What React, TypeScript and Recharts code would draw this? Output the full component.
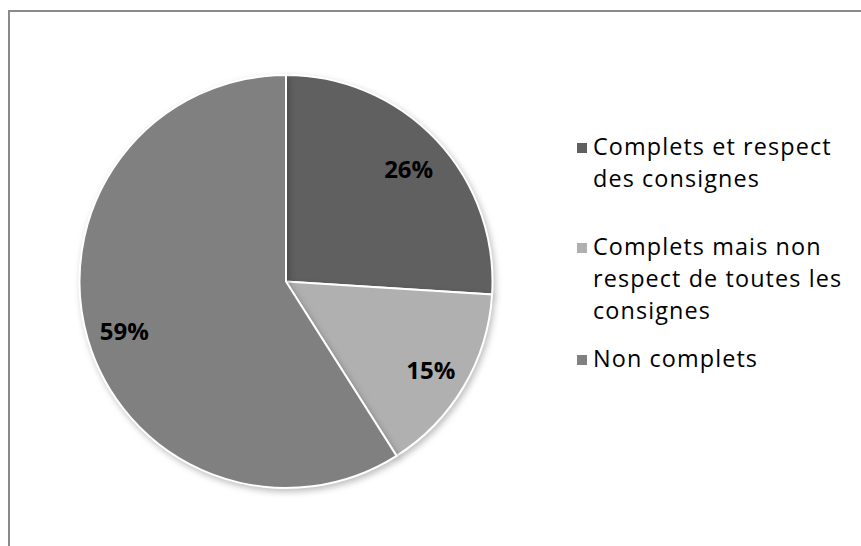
import React from "react";
import { PieChart, Pie, Cell, Legend } from "recharts";

const categories = [
  "Complets et respect des consignes",
  "Complets mais non respect de toutes les consignes",
  "Non complets",
];
const values = [26, 15, 59];
const legendLines = [
  ["Complets et respect", "des consignes"],
  ["Complets mais non", "respect de toutes les", "consignes"],
  ["Non complets"],
];
const colors = ["#606060", "#b0b0b0", "#808080"];

const data = categories.map((name, i) => ({ name, value: values[i] }));

const RAD = Math.PI / 180;
const FONT = "'Open Sans', 'DejaVu Sans', sans-serif";

const renderLabel = (props: any) => {
  const { cx, cy, midAngle, outerRadius, value } = props;
  const r = outerRadius * 0.815;
  const x = cx + r * Math.cos(-midAngle * RAD);
  const y = cy + r * Math.sin(-midAngle * RAD);
  return (
    <text
      x={x}
      y={y + 2}
      textAnchor="middle"
      dominantBaseline="central"
      fill="#000"
      fontFamily={FONT}
      fontWeight="bold"
      fontSize={24}
    >
      {`${value}%`}
    </text>
  );
};

const LegendContent = () => (
  <div style={{ fontFamily: FONT, fontSize: 23.4, lineHeight: "32px", letterSpacing: 1.1, color: "#000" }}>
    {legendLines.map((lines, i) => (
      <div key={i} style={{ position: "relative", paddingLeft: 16, marginBottom: i === 0 ? 36 : 16 }}>
        <span
          style={{
            position: "absolute",
            left: 0,
            top: 13,
            width: 10,
            height: 10,
            background: colors[i],
          }}
        />
        {lines.map((l, j) => (
          <div key={j} style={{ whiteSpace: "nowrap", height: 32 }}>{l}</div>
        ))}
      </div>
    ))}
  </div>
);

export default function App() {
  return (
    <div style={{ position: "absolute", left: 0, top: 0, width: 861, height: 546, background: "#fff", overflow: "hidden" }}>
      <div
        style={{
          position: "absolute",
          left: 8,
          top: 10,
          width: 900,
          height: 600,
          borderTop: "2px solid #8a8a8a",
          borderLeft: "2px solid #8a8a8a",
        }}
      />
      <style>{`.recharts-pie-sector path { filter: drop-shadow(2px 3px 3px rgba(0,0,0,0.25)); }`}</style>
      <div style={{ position: "absolute", left: 0, top: 0 }}>
        <PieChart width={861} height={546} margin={{ top: 0, right: 0, bottom: 0, left: 0 }}>
          <Pie
            data={data}
            dataKey="value"
            nameKey="name"
            cx={286}
            cy={281.5}
            outerRadius={206.5}
            startAngle={90}
            endAngle={-270}
            stroke="#fff"
            strokeWidth={2}
            label={renderLabel}
            labelLine={false}
            isAnimationActive={false}
          >
            {data.map((d, i) => (
              <Cell key={d.name} fill={colors[i]} />
            ))}
          </Pie>
          <Legend
            layout="vertical"
            content={<LegendContent />}
            wrapperStyle={{ position: "absolute", left: 577, top: 130, width: 280 }}
          />
        </PieChart>
      </div>
    </div>
  );
}
